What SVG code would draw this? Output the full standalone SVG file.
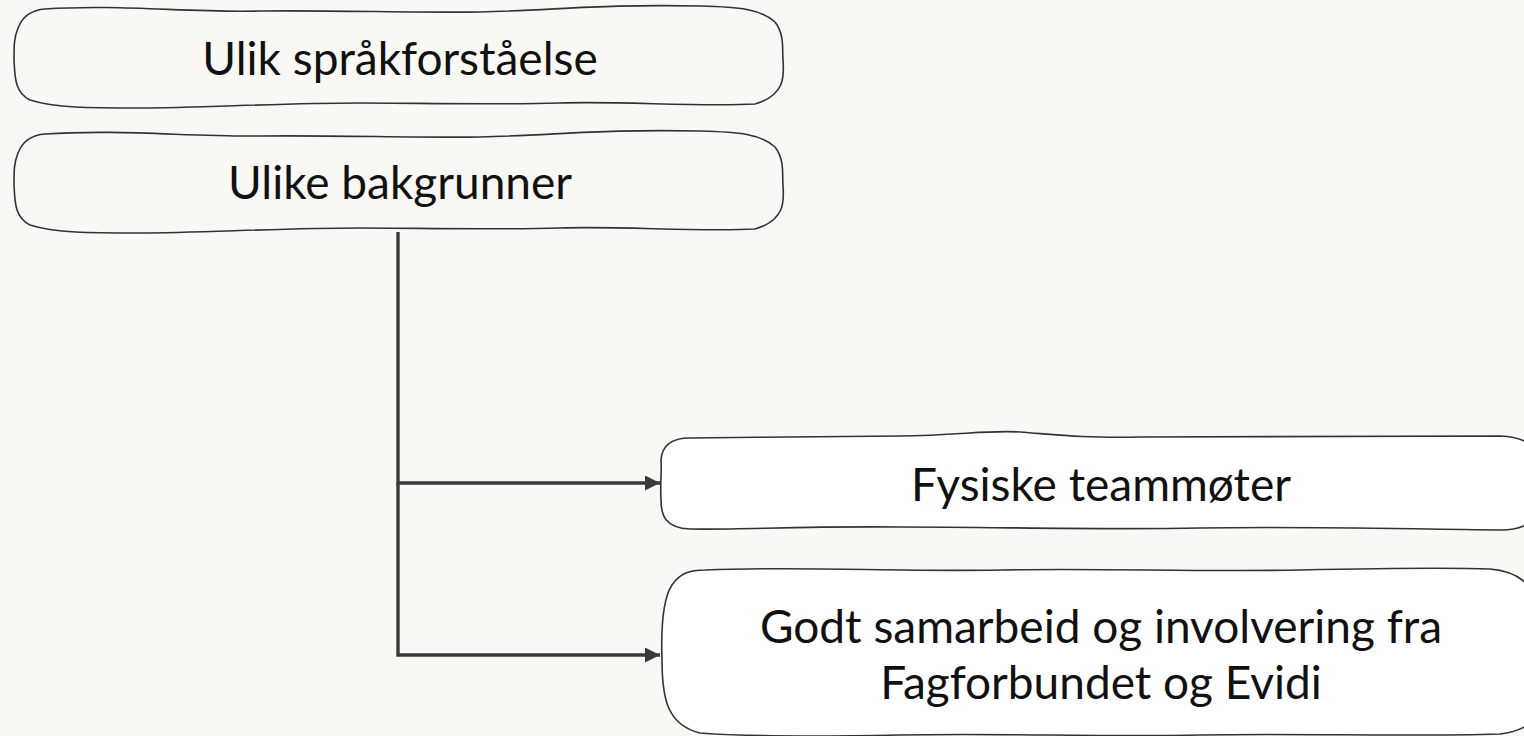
<svg xmlns="http://www.w3.org/2000/svg" width="1524" height="736" viewBox="0 0 1524 736">
<defs>
<style>
.bg{fill:#f9f8f4}
.box{stroke:#333;stroke-width:1.6;stroke-linejoin:round}
.plain{fill:#f9f8f4}
.white{fill:#ffffff}
.lbl{font-family:Lato,"Open Sans","Liberation Sans",sans-serif;font-size:46px;fill:#111;text-anchor:middle}
.edge{fill:none;stroke:#3a3a38;stroke-width:3.4}
</style>
<marker id="arr" viewBox="0 0 15 15" refX="15" refY="7.5" markerWidth="15" markerHeight="15" markerUnits="userSpaceOnUse" orient="auto">
<path d="M0 0 L15 7.5 L0 15 Z" fill="#3a3a38"/>
</marker>
</defs>
<rect class="bg" x="0" y="0" width="1524" height="736"/>
<g id="n1">
<path class="box plain" d="M 45 9 C 120 4, 190 13, 260 11 C 330 10, 420 13, 480 12 C 560 10, 600 4, 700 6 C 740 7, 760 9, 775 22 C 785 35, 782 50, 783 60 C 784 75, 786 95, 755 104 C 700 107, 620 101, 560 103 C 480 105, 420 103, 360 103 C 280 103, 200 108, 140 108 C 90 108, 55 108, 30 100 C 14 92, 15 75, 14 60 C 14 45, 14 38, 18 28 C 22 18, 30 10, 45 9 Z"/>
<text class="lbl" x="400" y="75">Ulik språkforståelse</text>
</g>
<g id="n2">
<path class="box plain" d="M 45 134 C 120 129, 190 137, 260 136 C 330 135, 420 138, 480 137 C 560 135, 600 129, 700 131 C 740 132, 760 134, 775 147 C 785 160, 782 175, 783 185 C 784 200, 786 220, 755 229 C 700 232, 620 226, 560 228 C 480 230, 420 228, 360 228 C 280 228, 200 233, 140 233 C 90 233, 55 233, 30 225 C 14 217, 15 200, 14 185 C 14 170, 14 163, 18 153 C 22 143, 30 135, 45 134 Z"/>
<text class="lbl" x="400" y="199">Ulike bakgrunner</text>
</g>
<g id="n3">
<path class="box white" d="M 690 438 C 760 437, 820 437, 900 436 C 960 435, 990 430, 1020 432 C 1060 435, 1080 438, 1140 437 C 1260 436, 1380 436, 1500 436 C 1530 437, 1540 450, 1540 470 L 1540 505 C 1535 525, 1520 530, 1500 530 C 1400 529, 1300 526, 1200 528 C 1100 530, 1000 527, 900 527 C 800 526, 740 530, 690 529 C 665 528, 661 515, 661 500 C 660 480, 662 470, 661 460 C 662 445, 672 438, 690 438 Z"/>
<text class="lbl" x="1101" y="501">Fysiske teammøter</text>
</g>
<g id="n4">
<path class="box white" d="M 705 570 C 800 566, 900 572, 1000 570 C 1100 568, 1200 572, 1300 570 C 1400 568, 1460 568, 1490 569 C 1530 572, 1545 600, 1545 640 L 1545 690 C 1545 710, 1535 730, 1500 734 C 1400 737, 1300 733, 1200 735 C 1100 737, 1000 733, 900 735 C 800 737, 740 736, 700 733 C 668 725, 662 700, 662 660 C 661 630, 662 600, 672 585 C 680 573, 690 570, 705 570 Z"/>
<text class="lbl" x="1101" y="643">Godt samarbeid og involvering fra</text>
<text class="lbl" x="1101" y="699">Fagforbundet og Evidi</text>
</g>
<g id="connectors">
<path class="edge" d="M 398 232 L 398 483 L 660 483" marker-end="url(#arr)"/>
<path class="edge" d="M 398 483 L 398 655 L 660 655" marker-end="url(#arr)"/>
</g>
</svg>
